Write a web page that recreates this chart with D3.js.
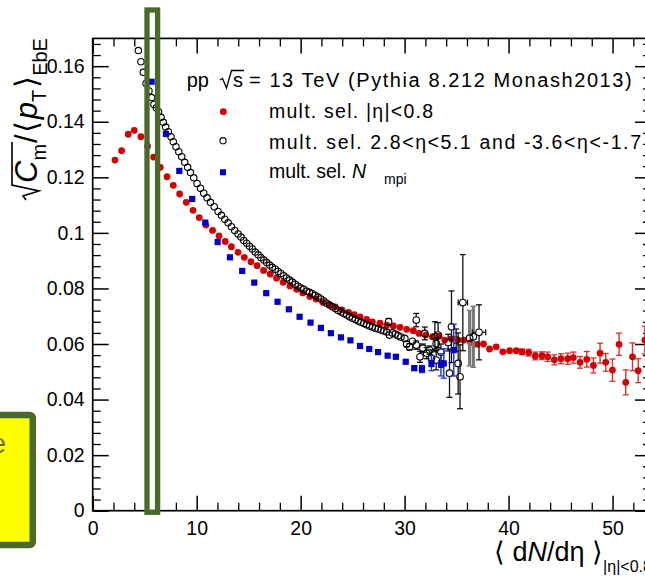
<!DOCTYPE html>
<html><head><meta charset="utf-8">
<script src="https://cdn.jsdelivr.net/npm/d3@7"></script>
<style>
body{margin:0;background:#fff;overflow:hidden}
svg{display:block}
text{font-family:"Liberation Sans",Arial,Helvetica,sans-serif;fill:#000}
</style>
</head><body>
<svg id="c" width="645" height="576"></svg>
<script>
// ---------------- data ----------------
const xTickValues = [0,10,20,30,40,50];
const xTickLabels = ["0","10","20","30","40","50"];
const yTickValues = [0,0.02,0.04,0.06,0.08,0.10,0.12,0.14,0.16];
const yTickLabels = ["0","0.02","0.04","0.06","0.08","0.1","0.12","0.14","0.16"];

// mult. sel. |eta|<0.8 (red, filled circles)
const redX = [2.14,2.78,3.42,4.00,4.64,5.28,5.86,6.50,7.15,7.75,
  8.36,9.00,9.65,10.25,10.89,11.53,12.15,12.75,13.34,13.98,
  14.58,15.22,15.81,16.44,17.08,17.69,18.32,18.97,19.62,20.21,
  20.89,21.49,22.14,22.78,23.33,23.97,24.61,25.16,25.71,26.35,
  26.90,27.63,28.28,28.92,29.56,30.20,30.84,31.39,32.03,32.67,
  33.31,33.86,34.51,35.15,35.70,36.34,36.98,37.59,38.17,38.81,
  39.45,40.10,40.74,41.29,41.93,42.57,43.21,43.76,44.40,45.04,
  45.69,46.23,46.88,47.52,48.16,48.80,49.35,49.99,50.63,51.27,
  51.92,52.47,53.11];
const redY = [.1262,.1296,.1355,.1369,.1346,.1312,.1273,.1236,.1202,.1171,
  .1140,.1110,.1081,.1055,.1028,.1009,.0989,.0969,.0950,.0930,
  .0912,.0896,.0882,.0865,.0852,.0837,.0822,.0809,.0797,.0784,
  .0771,.0762,.0750,.0741,.0734,.0723,.0714,.0706,.0698,.0689,
  .0680,.0675,.0668,.0665,.0660,.0653,.0648,.0638,.0632,.0626,
  .0628,.0614,.0618,.0614,.0614,.0605,.0599,.0600,.0582,.0590,
  .0572,.0576,.0576,.0572,.0569,.0557,.0558,.0554,.0543,.0547,
  .0547,.0551,.0534,.0545,.0523,.0567,.0534,.0506,.0599,.0462,
  .0554,.0504,.0614];
const redErr = [0,0,0,0,0,0,0,0,0,0,
  0,0,0,0,0,0,0,0,0,0,
  0,0,0,0,0,0,0,0,0,0,
  0,0,0,0,0,0,0,0,0,0,
  0,0,0,0,0,0,0,0,0,0,
  0,0,0,0,0,0,0,0,0,0,
  0,0,0,.0010,.0012,.0014,.0014,.0017,.0018,.0018,
  .0020,.0020,.0021,.0028,.0027,.0036,.0032,.0040,.0040,.0045,
  .0050,.0043,.0050];

// mult. sel. 2.8<eta<5.1 and -3.6<eta<-1.7 (open circles)
const circX = [4.39,4.64,4.86,5.13,5.41,5.67,5.89,6.12,6.33,6.57,
  6.79,7.02,7.27,7.53,7.75,8.01,8.28,8.56,8.85,9.13,
  9.40,9.72,10.04,10.36,10.68,11.00,11.32,11.69,12.06,12.38,
  12.70,13.02,13.34,13.66,13.98,14.26,14.53,14.81,15.08,15.36,
  15.63,15.91,16.18,16.46,16.73,17.01,17.28,17.56,17.83,18.10,
  18.38,18.65,18.93,19.20,19.48,19.75,20.03,20.30,20.58,20.85,
  21.13,21.40,21.68,21.95,22.23,22.50,22.78,23.05,23.33,23.60,
  23.88,24.15,24.43,24.70,24.98,25.25,25.53,25.80,26.08,26.35,
  26.63,26.90,27.18,27.45,27.73,28.00,28.28];
const circY = [.1656,.1616,.1578,.1538,.1511,.1487,.1462,.1450,.1436,.1416,
  .1398,.1381,.1364,.1346,.1328,.1310,.1292,.1274,.1254,.1236,
  .1217,.1198,.1178,.1161,.1143,.1126,.1110,.1094,.1077,.1063,
  .1049,.1036,.1022,.1009,.0996,.0985,.0973,.0963,.0952,.0942,
  .0931,.0921,.0911,.0902,.0893,.0884,.0876,.0869,.0861,.0854,
  .0846,.0838,.0830,.0823,.0815,.0808,.0802,.0797,.0790,.0786,
  .0781,.0775,.0769,.0762,.0755,.0747,.0740,.0734,.0728,.0721,
  .0715,.0710,.0704,.0698,.0693,.0688,.0683,.0678,.0674,.0669,
  .0665,.0661,.0657,.0654,.0650,.0647,.0643];
// high-multiplicity tail of the open-circle series (with errors)
const tailX = [28.46,28.55,28.82,29.10,29.37,29.65,30.02,30.20,30.47,30.75,
  31.12,31.12,31.48,31.76,31.94,32.12,32.40,32.58,32.91,33.04,
  33.04,33.22,33.50,34.19,34.32,34.51,34.96,35.15,35.33,35.60,
  36.25,36.61,37.16];
const tailY = [.0680,.0632,.0640,.0636,.0630,.0625,.0620,.0600,.0590,.0610,
  .0686,.0596,.0554,.0585,.0638,.0567,.0578,.0549,.0626,.0602,
  .0542,.0632,.0570,.0605,.0495,.0662,.0614,.0530,.0482,.0749,
  .0621,.0626,.0642];
const tailErr = [.0012,0,0,0,0,0,0,.0010,.0012,0,
  .0024,.0015,.0020,.0015,.0023,.0020,.0015,.0030,.0054,.0020,
  .0035,.0045,.0030,.0030,.0087,.0129,.0040,.0110,.0115,.0173,
  .0100,.0110,.0099];
const tailXErr = [0,0,0,0,0,0,0,0,0,0,
  0,0,0,0,0,0,0,0,0,0,
  0,0,0,0,0,0,0,0,0,.45,
  0,0,.64];
const tailGray = [0,0,0,0,0,0,0,0,0,0,
  0,0,0,0,0,0,0,0,0,0,
  0,0,0,0,0,0,0,0,0,0,
  1,1,0];

// mult. sel. N_mpi (blue squares)
const blueX = [5.67,7.04,8.33,9.57,10.83,12.02,13.20,14.38,15.54,16.69,
  17.78,18.87,19.90,20.95,21.95,22.91,23.88,24.79,25.71,26.60,
  27.45,28.37,29.16,30.11,30.93,31.67,32.58,33.50,33.77,34.73];
const blueY = [.1544,.1356,.1223,.1122,.1037,.0967,.0912,.0863,.0821,.0783,
  .0752,.0725,.0698,.0677,.0658,.0639,.0624,.0613,.0593,.0582,
  .0571,.0558,.0554,.0536,.0513,.0510,.0531,.0525,.0530,.0578];
const blueErr = [0,0,0,0,0,0,0,0,0,0,
  0,0,0,0,0,0,0,0,0,0,
  0,0,0,0,.0008,.0013,.0027,.0040,.0053,.0093];

const legendHeader = "= 13 TeV (Pythia 8.212 Monash2013)";
const legendLabels = ["mult. sel. |η|<0.8", "mult. sel. 2.8<η<5.1 and -3.6<η<-1.7", "mult. sel."];

// ---------------- drawing ----------------
const RED = "#d20000", BLUE = "#0000cc", GREEN = "#4a6a2c";
const svg = d3.select("#c");
const x = d3.scaleLinear().domain([0, 53.7]).range([92.7, 651]);
const y = d3.scaleLinear().domain([0, 0.17]).range([510.7, 38.4]);

const FS = 19.5;
function styleAxis(g, lw){
  g.select(".domain").remove();
  g.selectAll(".tick line").attr("stroke","#000").attr("stroke-width",lw);
  g.attr("font-family",null).attr("font-size",null);
  g.selectAll("text").attr("font-size",FS).attr("fill","#000");
}
const xMinor = d3.range(0, 54, 2).filter(v => v % 10 !== 0);
const yMinor = d3.range(0, 0.17, 0.004).filter(v => Math.abs(v/0.02 - Math.round(v/0.02)) > 1e-6);

// bottom
svg.append("g").attr("transform",`translate(0,${y(0)})`)
  .call(d3.axisBottom(x).tickValues(xTickValues).tickFormat((d,i)=>xTickLabels[i]).tickSizeInner(-15).tickSizeOuter(0).tickPadding(10))
  .call(g=>styleAxis(g,1.5));
svg.append("g").attr("transform",`translate(0,${y(0)})`)
  .call(d3.axisBottom(x).tickValues(xMinor).tickFormat("").tickSizeInner(-8).tickSizeOuter(0))
  .call(g=>styleAxis(g,1.3));
// top
svg.append("g").attr("transform",`translate(0,${y(0.17)})`)
  .call(d3.axisTop(x).tickValues(xTickValues).tickFormat("").tickSizeInner(-15).tickSizeOuter(0))
  .call(g=>styleAxis(g,1.5));
svg.append("g").attr("transform",`translate(0,${y(0.17)})`)
  .call(d3.axisTop(x).tickValues(xMinor).tickFormat("").tickSizeInner(-8).tickSizeOuter(0))
  .call(g=>styleAxis(g,1.3));
// left
svg.append("g").attr("transform",`translate(${x(0)},0)`)
  .call(d3.axisLeft(y).tickValues(yTickValues).tickFormat((d,i)=>yTickLabels[i]).tickSizeInner(-16).tickSizeOuter(0).tickPadding(8))
  .call(g=>styleAxis(g,1.5));
svg.append("g").attr("transform",`translate(${x(0)},0)`)
  .call(d3.axisLeft(y).tickValues(yMinor).tickFormat("").tickSizeInner(-8).tickSizeOuter(0))
  .call(g=>styleAxis(g,1.3));
// right
svg.append("g").attr("transform",`translate(${x(53.7)},0)`)
  .call(d3.axisRight(y).tickValues(yTickValues).tickFormat("").tickSizeInner(-16).tickSizeOuter(0))
  .call(g=>styleAxis(g,1.5));
svg.append("g").attr("transform",`translate(${x(53.7)},0)`)
  .call(d3.axisRight(y).tickValues(yMinor).tickFormat("").tickSizeInner(-8).tickSizeOuter(0))
  .call(g=>styleAxis(g,1.3));

// frame
svg.append("rect").attr("x",x(0)).attr("y",y(0.17)).attr("width",x(53.7)-x(0)).attr("height",y(0)-y(0.17))
  .attr("fill","none").attr("stroke","#000").attr("stroke-width",1.7);

// clip
svg.append("clipPath").attr("id","fr").append("rect")
  .attr("x",x(0)).attr("y",y(0.17)).attr("width",x(53.7)-x(0)).attr("height",y(0)-y(0.17));
const plot = svg.append("g").attr("clip-path","url(#fr)");

function errBars(g, xs, ys, es, color, lw, gap, xes, grays){
  xs.forEach((xv,i)=>{
    const e = es[i]; const cx = x(xv), cy = y(ys[i]);
    const col = (grays && grays[i]) ? "#7a7a7a" : color;
    const w = (grays && grays[i]) ? 3.2 : lw;
    if (e > 0){
      const y1 = y(ys[i]+e), y2 = y(ys[i]-e);
      if (y1 < cy-gap) g.append("line").attr("x1",cx).attr("x2",cx).attr("y1",y1).attr("y2",cy-gap).attr("stroke",col).attr("stroke-width",w);
      if (y2 > cy+gap) g.append("line").attr("x1",cx).attr("x2",cx).attr("y1",cy+gap).attr("y2",y2).attr("stroke",col).attr("stroke-width",w);
      [y1,y2].forEach(yy=>g.append("line").attr("x1",cx-3).attr("x2",cx+3).attr("y1",yy).attr("y2",yy).attr("stroke",col).attr("stroke-width",1.3));
    }
    if (xes && xes[i] > 0){
      const x1 = x(xv-xes[i]), x2 = x(xv+xes[i]);
      g.append("line").attr("x1",x1).attr("x2",cx-gap).attr("y1",cy).attr("y2",cy).attr("stroke",color).attr("stroke-width",lw);
      g.append("line").attr("x1",cx+gap).attr("x2",x2).attr("y1",cy).attr("y2",cy).attr("stroke",color).attr("stroke-width",lw);
      [x1,x2].forEach(xx=>g.append("line").attr("x1",xx).attr("x2",xx).attr("y1",cy-3).attr("y2",cy+3).attr("stroke",color).attr("stroke-width",1.3));
    }
  });
}

// red series
const gRed = plot.append("g");
errBars(gRed, redX, redY, redErr, "#d83030", 1.4, 0);
gRed.selectAll("circle").data(redX).join("circle")
  .attr("cx",(d)=>x(d)).attr("cy",(d,i)=>y(redY[i])).attr("r",3.4).attr("fill",RED);

// open circles
const gCirc = plot.append("g");
errBars(gCirc, tailX, tailY, tailErr, "#111", 1.3, 3.5, tailXErr, tailGray);
gCirc.selectAll("circle.a").data(circX).join("circle").attr("class","a")
  .attr("cx",d=>x(d)).attr("cy",(d,i)=>y(circY[i])).attr("r",3.2).attr("fill","none").attr("stroke","#000").attr("stroke-width",1.1);
gCirc.selectAll("circle.b").data(tailX).join("circle").attr("class","b")
  .attr("cx",d=>x(d)).attr("cy",(d,i)=>y(tailY[i])).attr("r",3.3).attr("fill","none").attr("stroke","#000").attr("stroke-width",1.1);

// blue squares
const gBlue = plot.append("g");
errBars(gBlue, blueX, blueY, blueErr, "#2030d0", 1.4, 0);
gBlue.selectAll("rect").data(blueX).join("rect")
  .attr("x",d=>x(d)-3.1).attr("y",(d,i)=>y(blueY[i])-3.1).attr("width",6.2).attr("height",6.2).attr("fill",BLUE);

// ---------------- legend ----------------
const LF = 19.5;
svg.append("text").attr("x",186.7).attr("y",87.3).attr("font-size",LF+0.5).text("pp");
svg.append("path").attr("d","M220,80 L222.5,78.5 L226.5,88 L231.5,70.5 L244,70.5").attr("fill","none").attr("stroke","#000").attr("stroke-width",1.3);
svg.append("text").attr("x",233).attr("y",87.3).attr("font-size",LF+0.5).text("s");
svg.append("text").attr("x",249).attr("y",87.3).attr("font-size",LF+0.5)
  .attr("textLength",382.7).attr("lengthAdjust","spacing").text(legendHeader);

svg.append("circle").attr("cx",223.3).attr("cy",111.7).attr("r",3.4).attr("fill",RED);
svg.append("circle").attr("cx",223).attr("cy",140.7).attr("r",3.1).attr("fill","none").attr("stroke","#000").attr("stroke-width",1.1);
svg.append("rect").attr("x",223-3).attr("y",172.3-3).attr("width",6).attr("height",6).attr("fill",BLUE);

svg.append("text").attr("x",269).attr("y",118).attr("font-size",LF).attr("textLength",164).attr("lengthAdjust","spacing").text(legendLabels[0]);
svg.append("text").attr("x",269).attr("y",149).attr("font-size",LF).attr("textLength",372).attr("lengthAdjust","spacing").text(legendLabels[1]);
svg.append("text").attr("x",269).attr("y",178.3).attr("font-size",LF).attr("textLength",77.5).attr("lengthAdjust","spacing").text(legendLabels[2]);
const t3 = svg.append("text").attr("x",352).attr("y",178.3).attr("font-size",LF);
t3.append("tspan").attr("font-style","italic").text("N");
t3.append("tspan").attr("font-size",14).attr("x",384).attr("dy",6).text("mpi");

// ---------------- axis titles ----------------
// y title (rotated)
const yt = svg.append("g").attr("transform","translate(37,200) rotate(-90)");
const ytt = yt.append("text").attr("font-size",31);
ytt.append("tspan").attr("x",17).attr("font-style","italic").text("C");
ytt.append("tspan").attr("font-size",20).attr("dy",9).text("m");
ytt.append("tspan").attr("dy",-9).attr("dx",1).text("/");
ytt.append("tspan").attr("dx",1).text("⟨");
ytt.append("tspan").attr("dx",2).attr("font-style","italic").text("p");
ytt.append("tspan").attr("font-size",20).attr("dy",9).text("T");
ytt.append("tspan").attr("dy",-9).attr("dx",2).text("⟩");
ytt.append("tspan").attr("font-size",20).attr("dy",10).text("EbE");
let mEnd = 52;
try { mEnd = ytt.node().getEndPositionOfChar(1).x + 2; } catch(e) {}
yt.append("path").attr("d",`M0,-11 L4,-14 L9,2 L15,-25 L${mEnd},-25`).attr("fill","none").attr("stroke","#000").attr("stroke-width",1.6);

// x title
const xt = svg.append("text").attr("x",494).attr("y",561).attr("font-size",27);
xt.append("tspan").text("⟨ d");
xt.append("tspan").attr("font-style","italic").text("N");
xt.append("tspan").text("/dη ⟩");
xt.append("tspan").attr("font-size",16).attr("dy",11).attr("dx",0).text("|η|<0.8");

// ---------------- annotations ----------------
svg.append("rect").attr("x",147).attr("y",10).attr("width",10.6).attr("height",502.3)
  .attr("fill","none").attr("stroke",GREEN).attr("stroke-width",5.3);
svg.append("rect").attr("x",-10).attr("y",415).attr("width",42.75).attr("height",130).attr("rx",3)
  .attr("fill","#ffff00").attr("stroke",GREEN).attr("stroke-width",6.5);
svg.append("text").attr("x",6).attr("y",453).attr("text-anchor","end").attr("font-size",27).style("fill","#6b7020").text("e");
</script>
</body></html>
